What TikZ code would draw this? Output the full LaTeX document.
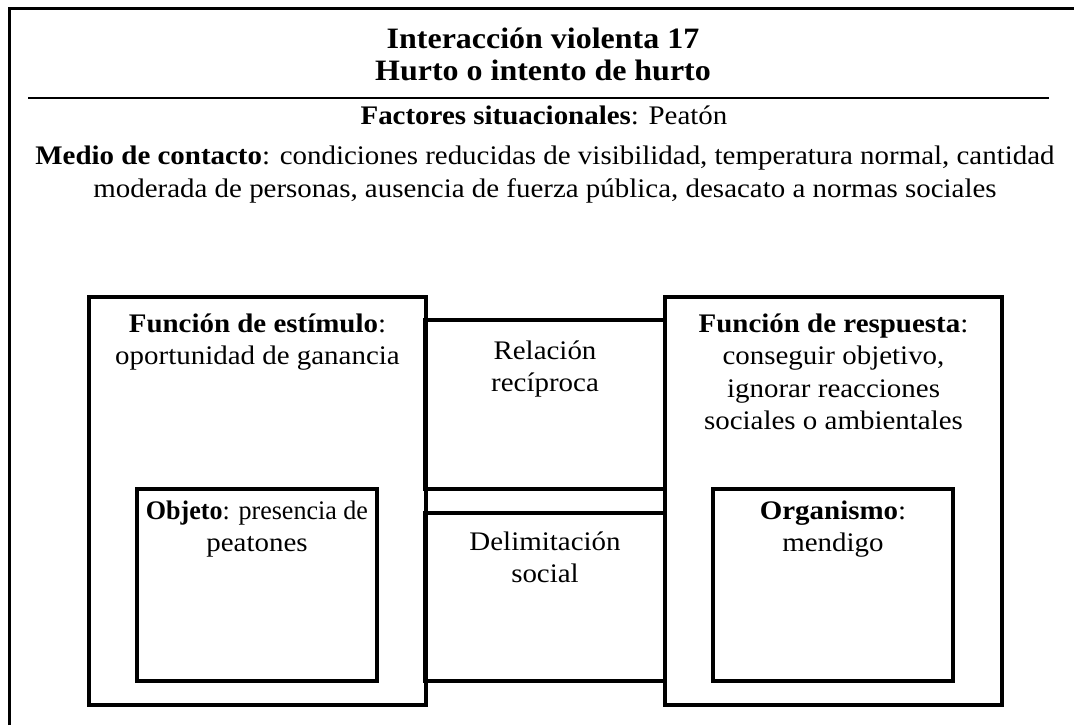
\documentclass[tikz,border=0pt]{standalone}
\usepackage{fontspec}
\setmainfont{Liberation Serif}[FakeStretch=1.08]
\usetikzlibrary{positioning}

\tikzset{
  caja/.style={draw, line width=1.8pt, inner sep=0pt, outer sep=0pt},
  texto/.style={align=center, inner sep=0pt, font=\fontsize{13.4}{16.25}\selectfont},
}

\begin{document}
\begin{tikzpicture}[x=0.5pt, y=-0.5pt]

  \useasboundingbox (0,0) rectangle (1074,725);

  % frame
  \draw [line width=1.5pt] (9,725) -- (9,8) -- (1074,8);

  % title
  \node (titulo) [texto, anchor=north, font=\fontsize{14.8}{16}\selectfont\bfseries]
        at (543, 28) {Interacción violenta 17\\Hurto o intento de hurto};

  % separator
  \draw [line width=1pt] (28,98) -- (1049,98);

  % situational factors
  \node (factores) [texto, anchor=north] at (544, 105)
        {\textbf{Factores situacionales}: Peatón};
  \node (medio) [texto, anchor=north, font=\fontsize{13.4}{16.5}\selectfont] at (545, 145)
        {\textbf{Medio de contacto}: condiciones reducidas de visibilidad, temperatura normal, cantidad\\
         moderada de personas, ausencia de fuerza pública, desacato a normas sociales};

  % boxes
  \node (estimulo)     [caja, minimum width=168.5pt, minimum height=204pt]  at (257.5, 501)   {};
  \node (respuesta)    [caja, minimum width=168.5pt, minimum height=204pt]  at (833.5, 501)   {};
  \node (objeto)       [caja, minimum width=120pt,   minimum height=96pt]   at (257,   585)   {};
  \node (organismo)    [caja, minimum width=120pt,   minimum height=96pt]   at (833,   585)   {};
  \node (relacion)     [caja, minimum width=120pt,   minimum height=84.5pt] at (545,   404.5) {};
  \node (delimitacion) [caja, minimum width=120pt,   minimum height=84pt]   at (545,   597)   {};

  % box texts
  \node (tEstimulo)     [texto, below=8pt of estimulo.north]
        {\textbf{Función de estímulo}:\\oportunidad de ganancia};
  \node (tRespuesta)    [texto, below=8pt of respuesta.north]
        {\textbf{Función de respuesta}:\\conseguir objetivo,\\ignorar reacciones\\sociales o ambientales};
  \node (tRelacion)     [texto, below=10pt of relacion.north]
        {Relación\\recíproca};
  \node (tDelimitacion) [texto, below=9pt of delimitacion.north]
        {Delimitación\\social};
  \node (tObjeto)       [texto, below=5.5pt of objeto.north]
        {\scalebox{0.9}[1]{\textbf{Objeto}: presencia de}\\peatones};
  \node (tOrganismo)    [texto, below=5.5pt of organismo.north]
        {\textbf{Organismo}:\\mendigo};

\end{tikzpicture}
\end{document}
